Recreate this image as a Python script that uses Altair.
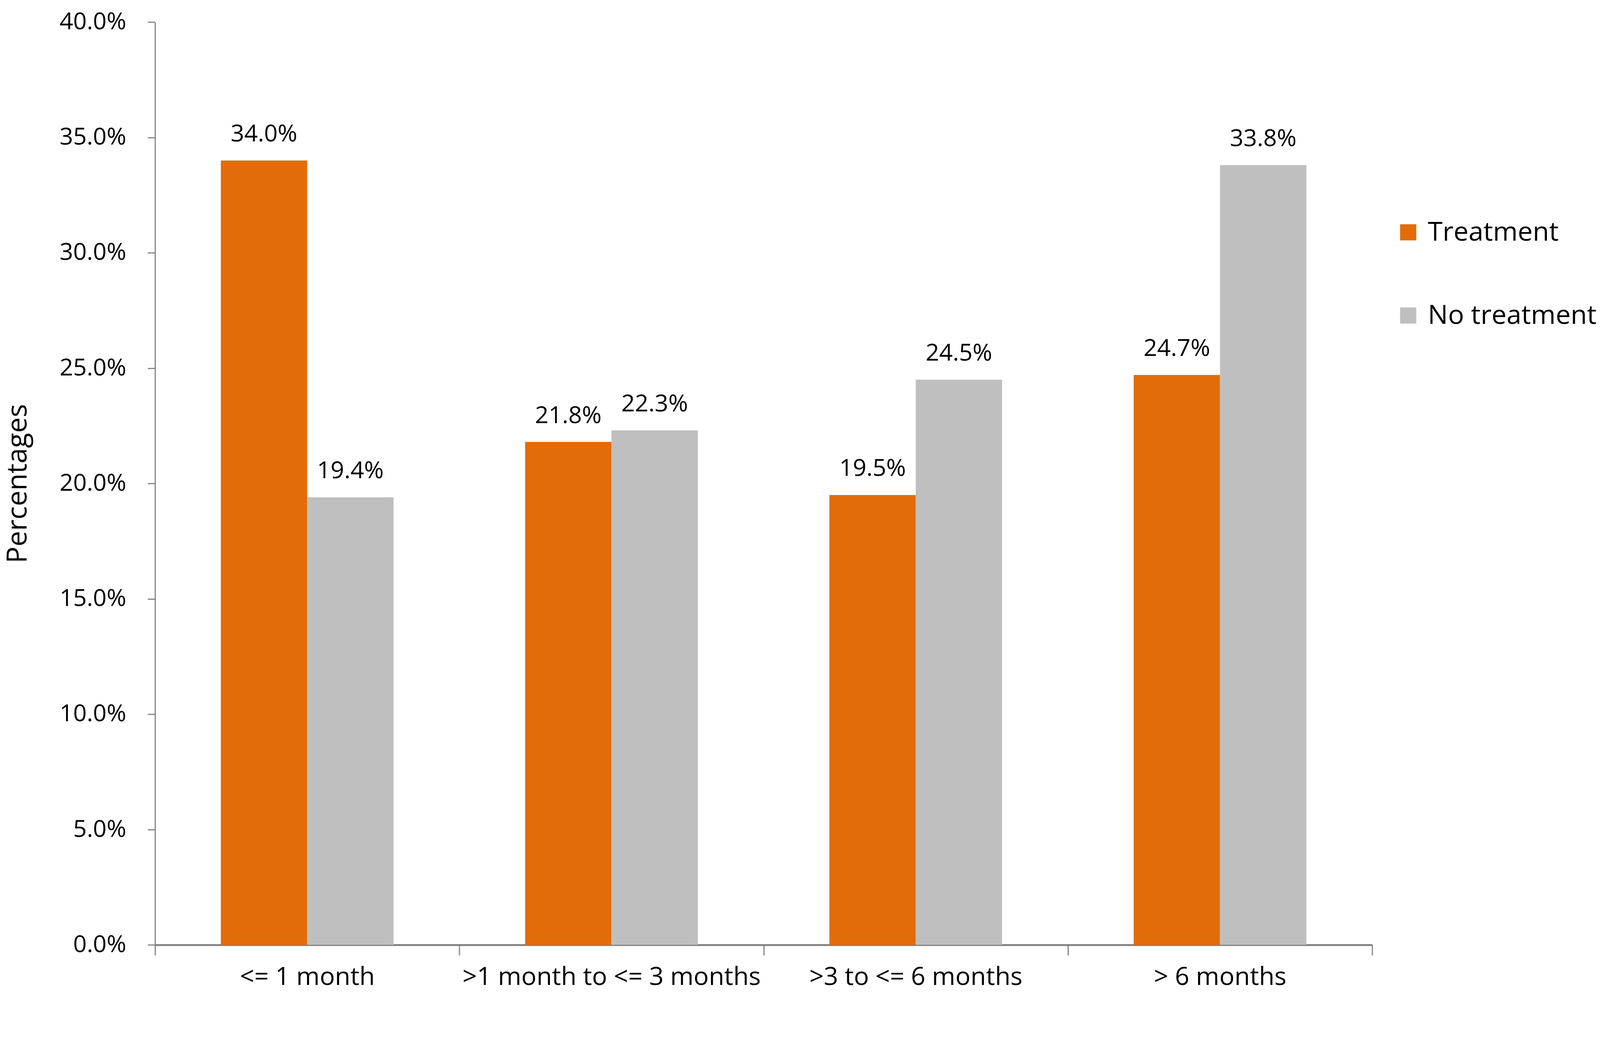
import altair as alt
import pandas as pd

categories = ["<= 1 month", ">1 month to <= 3 months", ">3 to <= 6 months", "> 6 months"]
series = ["Treatment", "No treatment"]
treatment = [34.0, 21.8, 19.5, 24.7]
no_treatment = [19.4, 22.3, 24.5, 33.8]
colors = ["#E36C0A", "#BFBFBF"]

rows = []
for c, t, n in zip(categories, treatment, no_treatment):
    rows.append({"cat": c, "series": "Treatment", "val": t})
    rows.append({"cat": c, "series": "No treatment", "val": n})
df = pd.DataFrame(rows)

FONT = "Open Sans"

x = alt.X("cat:N", sort=categories, title=None,
          scale=alt.Scale(paddingInner=0, paddingOuter=0),
          axis=alt.Axis(labelAngle=0, labelFontSize=68, labelColor="#000000", labelFont=FONT,
                        labelLimit=0,
                        tickBand="extent", tickSize=28, tickColor="#7F7F7F", tickWidth=3,
                        domainColor="#7F7F7F", domainWidth=5, labelPadding=26))
xo = alt.XOffset("series:N", sort=series,
                 scale=alt.Scale(paddingOuter=0.762, paddingInner=0))
y = alt.Y("val:Q", title="Percentages",
          scale=alt.Scale(domain=[0, 40], nice=False),
          axis=alt.Axis(values=[0, 5, 10, 15, 20, 25, 30, 35, 40],
                        labelExpr="format(datum.value, '.1f') + '%'",
                        labelFontSize=64, labelColor="#000000", labelFont=FONT,
                        labelPadding=58, tickSize=20, tickColor="#7F7F7F", tickWidth=3,
                        domainColor="#7F7F7F", domainWidth=3, grid=False,
                        titleFontSize=75, titleFontWeight="normal", titleColor="#000000",
                        titleFont=FONT, titlePadding=130))

bars = alt.Chart(df).mark_bar().encode(
    x=x, xOffset=xo, y=y,
    color=alt.Color("series:N", sort=series,
                    scale=alt.Scale(domain=series, range=colors),
                    legend=alt.Legend(title=None, orient="none", legendX=3338, legendY=530,
                                      labelFontSize=72, labelFont=FONT, labelColor="#000000",
                                      labelLimit=0,
                                      symbolType="square", symbolSize=1900, symbolStrokeWidth=0,
                                      rowPadding=152, labelOffset=17))
)

text = alt.Chart(df).transform_calculate(
    lbl="format(datum.val, '.1f') + '%'"
).mark_text(baseline="bottom", dy=-38, fontSize=64, font=FONT, color="#000000").encode(
    x=alt.X("cat:N", sort=categories), xOffset=alt.XOffset("series:N", sort=series),
    y=alt.Y("val:Q"),
    text="lbl:N",
)

chart = alt.layer(bars, text).properties(
    width=3277, height=2484,
    padding={"left": 3, "top": -48, "right": 0, "bottom": 0},
).configure(font=FONT).configure_view(strokeWidth=0, stroke="transparent")

chart.save("out.html", embed_options={"renderer": "svg", "actions": False})
